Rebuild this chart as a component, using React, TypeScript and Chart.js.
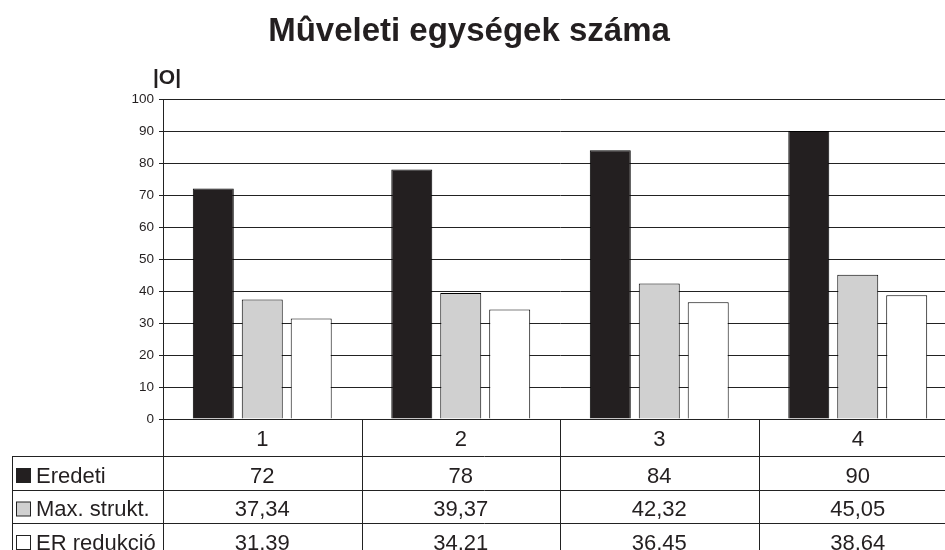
import React, { useEffect, useRef } from "react";
import { Chart, registerables } from "chart.js";

Chart.register(...registerables);

const TITLE = "Mûveleti egységek száma";
const Y_TITLE = "|O|";
const CATEGORIES = ["1", "2", "3", "4"];
const SERIES_NAMES = ["Eredeti", "Max. strukt.", "ER redukció"];
const EREDETI = [72, 78, 84, 90];
const MAX_STRUKT = [37.34, 39.37, 42.32, 45.05];
const ER_REDUKCIO = [31.39, 34.21, 36.45, 38.64];
const EREDETI_LABELS = ["72", "78", "84", "90"];
const MAX_STRUKT_LABELS = ["37,34", "39,37", "42,32", "45,05"];
const ER_REDUKCIO_LABELS = ["31,39", "34,21", "36,45", "38,64"];
const COLORS = ["#231f20", "#d0d0d0", "#ffffff"];

const FONT = '"Liberation Sans", Arial, Helvetica, sans-serif';
const INK = "#231f20";
const LINE = "#222222";

const tablePlugin = {
  id: "dataTable",
  afterDraw(chart: any) {
    const ctx = chart.ctx as CanvasRenderingContext2D;
    const area = chart.chartArea;
    const xs = chart.scales.x;
    const n = CATEGORIES.length;
    const colW = (area.right - area.left) / n;
    const bounds: number[] = [];
    for (let i = 0; i <= n; i++) bounds.push(area.left + i * colW);
    const catBottom = area.bottom + 37;
    const rowH = 33.5;
    const tableBottom = catBottom + rowH * 3;
    const legendLeft = 12;

    ctx.save();
    // title
    ctx.fillStyle = INK;
    ctx.font = `bold 33px ${FONT}`;
    ctx.textAlign = "center";
    ctx.textBaseline = "alphabetic";
    ctx.fillText(TITLE, 469, 41);
    // y title
    ctx.font = `bold 21px ${FONT}`;
    ctx.fillText(Y_TITLE, 167, 84);

    ctx.strokeStyle = LINE;
    ctx.lineWidth = 1;
    ctx.beginPath();
    for (let i = 0; i < n; i++) {
      const x = Math.round(bounds[i]) + 0.5;
      ctx.moveTo(x, area.bottom);
      ctx.lineTo(x, tableBottom);
    }
    ctx.moveTo(legendLeft + 0.5, catBottom);
    ctx.lineTo(legendLeft + 0.5, tableBottom);
    for (let r = 0; r <= 3; r++) {
      const y = Math.round(catBottom + r * rowH) + 0.5;
      ctx.moveTo(legendLeft, y);
      ctx.lineTo(area.right, y);
    }
    ctx.stroke();

    ctx.fillStyle = INK;
    ctx.font = `22px ${FONT}`;
    ctx.textAlign = "center";
    CATEGORIES.forEach((c, i) => {
      ctx.fillText(c, xs.getPixelForValue(i), area.bottom + 27);
    });

    const rows = [EREDETI_LABELS, MAX_STRUKT_LABELS, ER_REDUKCIO_LABELS];
    rows.forEach((vals, r) => {
      const top = catBottom + r * rowH;
      const base = top + 26.5;
      ctx.fillStyle = COLORS[r];
      ctx.fillRect(16.5, top + 12.5, 14, 14);
      ctx.strokeStyle = LINE;
      ctx.strokeRect(16.5, top + 12.5, 14, 14);
      ctx.fillStyle = INK;
      ctx.textAlign = "left";
      ctx.fillText(SERIES_NAMES[r], 36, base);
      ctx.textAlign = "center";
      vals.forEach((v, i) => {
        ctx.fillText(v, xs.getPixelForValue(i), base);
      });
    });
    ctx.restore();
  },
};

export default function App() {
  const ref = useRef<HTMLCanvasElement | null>(null);

  useEffect(() => {
    if (!ref.current) return;
    const common = {
      borderColor: "#000000",
      borderWidth: 1,
      categoryPercentage: 0.74,
      barPercentage: 0.837,
    };
    const chart = new Chart(ref.current, {
      type: "bar",
      data: {
        labels: CATEGORIES,
        datasets: [
          { label: SERIES_NAMES[0], data: EREDETI, backgroundColor: COLORS[0], ...common },
          { label: SERIES_NAMES[1], data: MAX_STRUKT, backgroundColor: COLORS[1], ...common },
          { label: SERIES_NAMES[2], data: ER_REDUKCIO, backgroundColor: COLORS[2], ...common },
        ],
      },
      options: {
        animation: false,
        responsive: false,
        maintainAspectRatio: false,
        layout: { padding: { top: 99, bottom: 131, left: 0, right: 3 } },
        plugins: {
          legend: { display: false },
          title: { display: false },
          tooltip: { enabled: false },
        },
        scales: {
          x: {
            grid: { display: false },
            ticks: { display: false },
            border: { display: false },
            afterFit: (s: any) => {
              s.height = 0;
            },
          },
          y: {
            min: 0,
            max: 100,
            ticks: {
              stepSize: 10,
              color: INK,
              padding: 5,
              font: { family: FONT, size: 13.5 },
            },
            grid: { color: LINE, lineWidth: 1, tickLength: 4 },
            border: { display: true, color: LINE, width: 1 },
            afterFit: (s: any) => {
              s.width = 163;
            },
          },
        },
      },
      plugins: [tablePlugin],
    });
    return () => chart.destroy();
  }, []);

  return (
    <div
      style={{
        position: "fixed",
        left: 0,
        top: 0,
        width: 945,
        height: 550,
        overflow: "hidden",
        background: "#ffffff",
      }}
    >
      <canvas ref={ref} width={960} height={550} style={{ width: 960, height: 550, display: "block" }} />
    </div>
  );
}
